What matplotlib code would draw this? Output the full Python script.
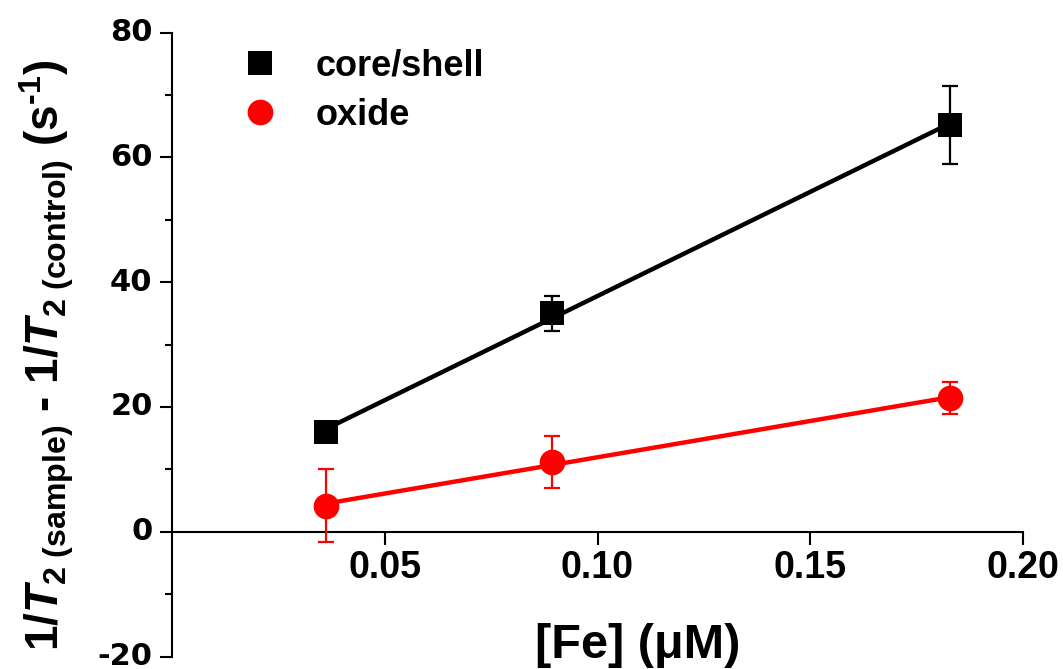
import numpy as np
import matplotlib
matplotlib.use("Agg")
import matplotlib.pyplot as plt
from matplotlib.lines import Line2D
from matplotlib.ticker import MultipleLocator, FixedLocator, FormatStrFormatter

plt.rcParams['font.family'] = ['Liberation Sans', 'DejaVu Sans']
plt.rcParams['font.weight'] = 'bold'
plt.rcParams['axes.unicode_minus'] = False
plt.rcParams['mathtext.fontset'] = 'custom'
plt.rcParams['mathtext.rm'] = 'Liberation Sans:bold'
plt.rcParams['mathtext.it'] = 'Liberation Sans:bold:italic'
plt.rcParams['mathtext.bf'] = 'Liberation Sans:bold'
plt.rcParams['mathtext.sf'] = 'Liberation Sans'

# ---- data ----
fe = [0.0362, 0.0894, 0.1829]
core_shell = [16.0, 35.0, 65.2]
core_shell_err = [1.5, 2.75, 6.3]
oxide = [4.2, 11.2, 21.4]
oxide_err = [5.8, 4.15, 2.6]
series_labels = ["core/shell", "oxide"]
colors = ["#000000", "#ff0000"]
x_ticks = [0.05, 0.10, 0.15, 0.20]
y_ticks = [-20, 0, 20, 40, 60, 80]

fig = plt.figure(figsize=(10.63, 6.69), dpi=100)
ax = fig.add_axes([172/1063, 1-656.5/669, (1023-172)/1063, (656.5-32.7)/669])

fe_arr = np.array(fe)
for ys, es, col, mk, ms in [(core_shell, core_shell_err, colors[0], 's', 16.8),
                            (oxide, oxide_err, colors[1], 'o', 18.5)]:
    coef = np.polyfit(fe_arr, np.array(ys), 1)
    xl = np.array([fe_arr.min(), fe_arr.max()])
    ax.plot(xl, np.polyval(coef, xl), color=col, lw=3.2, zorder=2, solid_capstyle='butt')
    ax.errorbar(fe, ys, yerr=es, fmt='none', ecolor=col, elinewidth=1.6,
                capsize=5.5, capthick=1.6, zorder=3)
    ax.plot(fe, ys, linestyle='none', marker=mk, ms=ms, color=col, mew=0, zorder=4)

ax.set_xlim(0, 0.20)
ax.set_ylim(-20, 80)
ax.spines['top'].set_visible(False)
ax.spines['right'].set_visible(False)
ax.spines['bottom'].set_position(('data', 0))
for s in ['left', 'bottom']:
    ax.spines[s].set_linewidth(1.5)

ax.xaxis.set_major_locator(FixedLocator(x_ticks))
ax.xaxis.set_major_formatter(FormatStrFormatter('%.2f'))
ax.yaxis.set_major_locator(FixedLocator(y_ticks))
ax.yaxis.set_minor_locator(MultipleLocator(10))
ax.tick_params(axis='both', which='major', direction='out', length=9, width=1.5)
ax.tick_params(axis='y', which='minor', direction='out', length=5, width=1.5)
ax.tick_params(axis='x', which='major', labelsize=27, pad=4,
               labelfontfamily='Liberation Sans')
ax.tick_params(axis='y', which='major', labelsize=22, pad=5,
               labelfontfamily='DejaVu Sans')
for lab in ax.get_xticklabels() + ax.get_yticklabels():
    lab.set_fontweight('bold')
for lab in ax.get_yticklabels():
    lab.set_verticalalignment('center')

ax.set_xlabel("[Fe] (\u03bcM)", fontsize=35, fontweight='bold', va='baseline')
ax.xaxis.set_label_coords((638-172)/(1023-172), (656.5-658)/(656.5-32.7))

ylab = (r"$\mathrm{1/}\mathit{T}_{\mathsf{2\ (sample)}}$ - "
        r"$\mathrm{1/}\mathit{T}_{\mathsf{2\ (control)}}$ (s$^{\text{-}\mathsf{1}}$)")
fig.text(47/1063, 1-355/669, ylab, rotation=90, ha='center', va='center', fontsize=33)

handles = [Line2D([], [], linestyle='none', marker='s', ms=16.8, color=colors[0], mew=0),
           Line2D([], [], linestyle='none', marker='o', ms=18.5, color=colors[1], mew=0)]
leg = fig.legend(handles, series_labels, loc='upper left',
                 bbox_to_anchor=(242/1063, 1-49/669), frameon=False,
                 prop={'family': 'Liberation Sans', 'weight': 'bold', 'size': 26},
                 handlelength=1.0, handletextpad=1.05, labelspacing=0.38,
                 borderpad=0, borderaxespad=0, numpoints=1)

fig.savefig("out.png", dpi=100)
